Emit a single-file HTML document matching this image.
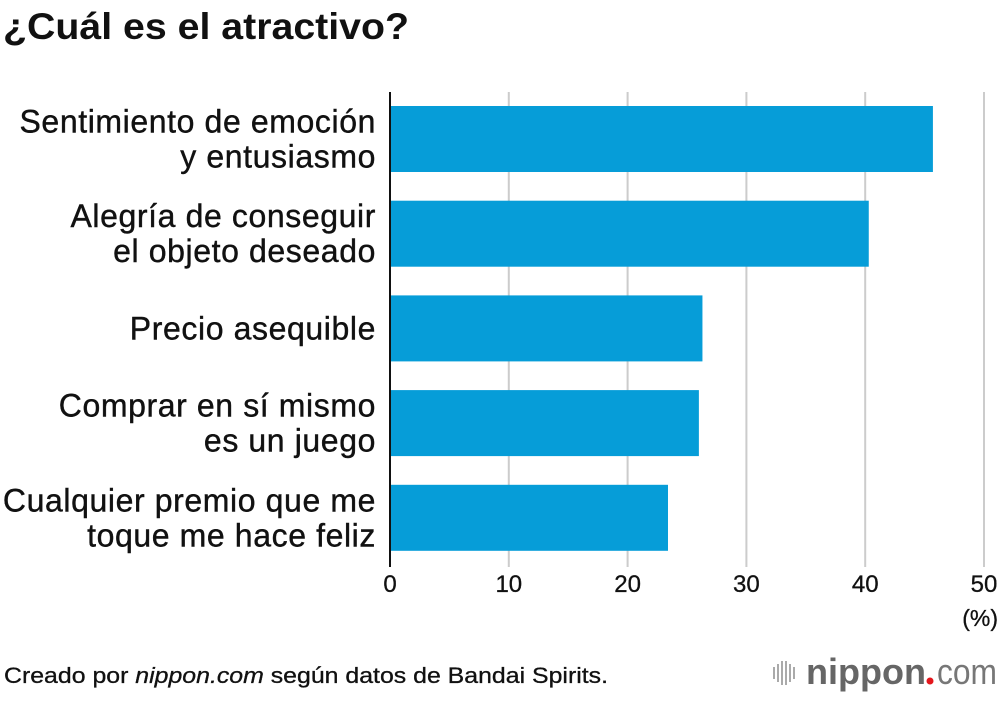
<!DOCTYPE html>
<html><head><meta charset="utf-8"><style>
body{margin:0;background:#fff;width:1000px;height:696px;overflow:hidden;font-family:"Liberation Sans",Arial,sans-serif;color:#111}
</style></head><body>
<svg id="chart" width="1000" height="696" xmlns="http://www.w3.org/2000/svg">
<text x="3" y="39" font-size="37" font-weight="bold" fill="#111" textLength="406" lengthAdjust="spacingAndGlyphs">¿Cuál es el atractivo?</text>
<g id="grid"></g><g id="bars"></g><g id="labels"></g><g id="ticks"></g>
<line x1="390" y1="92" x2="390" y2="567" stroke="#111" stroke-width="2"/>
<text x="998" y="626" font-size="23" text-anchor="end" fill="#111" stroke="#111" stroke-width="0.3">(%)</text>
<text x="4" y="683" font-size="22" fill="#111" stroke="#111" stroke-width="0.3" textLength="604" lengthAdjust="spacingAndGlyphs">Creado por <tspan font-style="italic">nippon.com</tspan> según datos de Bandai Spirits.</text>
<g>
<g stroke="#aaa" stroke-width="2"><line x1="774" y1="667" x2="774" y2="679"/><line x1="778" y1="664" x2="778" y2="682"/><line x1="782" y1="661" x2="782" y2="685"/><line x1="786" y1="661" x2="786" y2="685"/><line x1="790" y1="664" x2="790" y2="682"/><line x1="794" y1="667" x2="794" y2="679"/></g>
<text x="806" y="684" font-size="36" font-weight="bold" fill="#666" textLength="120" lengthAdjust="spacingAndGlyphs">nippon</text>
<circle cx="930" cy="681" r="3.5" fill="#e4161c"/>
<text x="937" y="684" font-size="36" fill="#777" textLength="60" lengthAdjust="spacingAndGlyphs">com</text>
</g>
</svg>
<script>
const categories=[["Sentimiento de emoción","y entusiasmo"],["Alegría de conseguir","el objeto deseado"],["Precio asequible"],["Comprar en sí mismo","es un juego"],["Cualquier premio que me","toque me hace feliz"]];
const values=[45.7,40.3,26.3,26.0,23.4];
const ticks=[0,10,20,30,40,50];
const NS="http://www.w3.org/2000/svg";
const x=v=>390+v*11.88;
const yTop=i=>106+i*94.7;
const bh=66;
function mk(t,a,p){const e=document.createElementNS(NS,t);for(const k in a)e.setAttribute(k,a[k]);p.appendChild(e);return e;}
const g=document.getElementById('grid'),b=document.getElementById('bars'),l=document.getElementById('labels'),tk=document.getElementById('ticks');
ticks.forEach(t=>{
 if(t>0){const ln=mk('line',{x1:x(t),x2:x(t),y1:92,y2:567,stroke:'#ccc','stroke-width':2},g);
 
 }
 const tx=mk('text',{x:x(t),y:592,'font-size':24,'text-anchor':'middle',fill:'#111',stroke:'#111','stroke-width':0.3},tk);tx.textContent=t;
 
 
});
values.forEach((v,i)=>{
 const r=mk('rect',{x:391,y:yTop(i),width:x(v)-391,height:bh,fill:'#069dd8'},b);
 
 
 const lines=categories[i];const cy=yTop(i)+bh/2;
 lines.forEach((s,j)=>{
  const yy=cy+(j-(lines.length-1)/2)*35+11;
  const t=mk('text',{x:376,y:yy,'font-size':32,'letter-spacing':0.6,'text-anchor':'end',fill:'#111',stroke:'#111','stroke-width':0.4},l);t.textContent=s;
  
  
 });
});
</script>
</body></html>
